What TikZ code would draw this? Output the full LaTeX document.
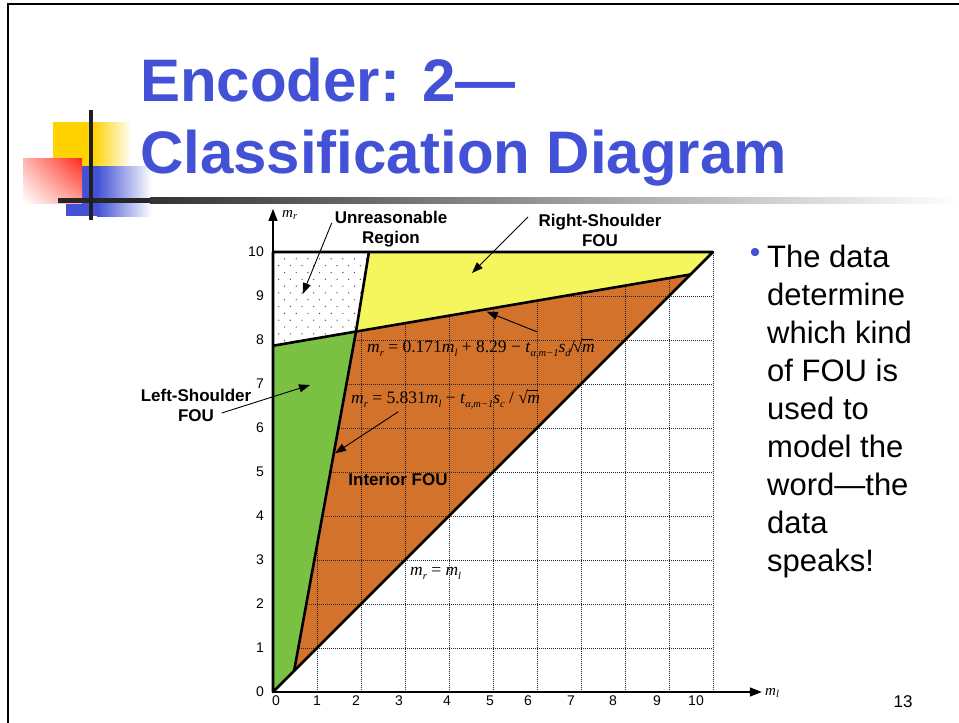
\documentclass[tikz,border=0pt]{standalone}
\usepackage{fontspec}
\setmainfont{Liberation Sans}
\newfontfamily\serifeq{Liberation Serif}
\usetikzlibrary{arrows.meta,shadings}

\definecolor{titleblue}{HTML}{4251D6}
\definecolor{fouyellow}{HTML}{F5F55E}
\definecolor{fouorange}{HTML}{D2722B}
\definecolor{fougreen}{HTML}{7AC143}
\definecolor{decoyellow}{HTML}{FFD200}
\definecolor{decored}{HTML}{FF2A1A}

% italic subscript and a radical with its bar
\newcommand\sub[1]{\raisebox{-0.27em}{\fontsize{10.5}{11}\selectfont\itshape #1}}
\newcommand\rtm{\mbox{√\kern-0.6pt\rlap{\rule[0.68em]{0.62em}{0.055em}}\textit{m}}}

\begin{document}
\begin{tikzpicture}[x=1pt,y=-1pt,
  lbl/.style={font=\fontsize{17}{20}\selectfont\bfseries, inner sep=0, align=center},
  ticklbl/.style={font=\fontsize{14}{16}\selectfont, inner sep=0},
  eqn/.style={font=\fontsize{17.5}{20}\selectfont\serifeq, inner sep=0, anchor=base west},
  pointer/.style={line width=0.9pt, -{Triangle[length=11pt,width=8pt]}},
  boundary/.style={line width=2.6pt, line join=round, line cap=round},
  axisline/.style={line width=1.3pt, -{Triangle[length=12pt,width=9pt]}},
  gridline/.style={dash pattern=on 1pt off 1pt, line width=0.9pt, black!85},
  titletext/.style={anchor=base west, inner sep=0, text=titleblue, font=\fontsize{60}{70}\selectfont\bfseries},
]
\useasboundingbox (0,0) rectangle (959,723);
\fill[white] (0,0) rectangle (959,723);

% slide frame
\draw[line width=1.6pt] (8,723) -- (8,4) -- (959,4);

% corner ornament
\fill[decoyellow] (53,122) rectangle (93,166);
\shade[left color=decoyellow, right color=white] (93,122) rectangle (132,166);
\fill[titleblue] (66,166) rectangle (97,216);
\shade[left color=titleblue, right color=white] (97,166) rectangle (152,216);
\shade[upper left=decored!35!white, upper right=decored, lower left=white, lower right=decored!45!white] (23,158) rectangle (82,203);
\fill[black!85] (58,197.5) rectangle (150,203);
\shade[left color=black!80, middle color=black!35, right color=white] (150,197.5) rectangle (959,203);
\fill[black!88] (89,110) rectangle (93,220);

% title
\node[titletext] (title1) at (140,101) {Encoder: 2—};
\node[titletext] (title2) at (140,173) {Classification Diagram};

% the classification plot, in data units
\begin{scope}[shift={(273,692)}, x=44pt, y=44pt]
  \coordinate (O) at (0,0);
  \coordinate (B) at (0.48,0.48);
  \coordinate (V) at (1.886,8.19);
  \coordinate (R) at (9.49,9.49);
  \coordinate (T) at (2.18,10);
  \coordinate (L) at (0,7.87);
  \coordinate (TL) at (0,10);
  \coordinate (TR) at (10,10);
  \coordinate (yend) at (0,10.98);
  \coordinate (xend) at (11.11,0);

  % interior FOU
  \fill[fouorange] (B) -- (V) -- (R) -- cycle;
  % grid
  \foreach \k in {1,...,10} \draw[gridline] (\k,0) -- (\k,10);
  \foreach \k in {1,...,9} \draw[gridline] (0,\k) -- (10,\k);
  % left-shoulder FOU
  \fill[fougreen] (O) -- (L) -- (V) -- (B) -- cycle;
  % right-shoulder FOU
  \fill[fouyellow] (V) -- (T) -- (TR) -- (R) -- cycle;
  % unreasonable region, dotted
  \fill[white] (L) -- (TL) -- (T) -- (V) -- cycle;
  \begin{scope}
    \clip (L) -- (TL) -- (T) -- (V) -- cycle;
    \foreach \i in {0,...,14}
      \foreach \j in {0,...,9}
        \fill[black!70] ({0.13+0.265*\j+0.1325*mod(\i,2)},{7.83+0.155*\i}) circle (0.7pt);
  \end{scope}

  % region boundaries
  \draw[boundary] (O) -- (TL) -- (TR) -- cycle;
  \draw[boundary] (L) -- (R);
  \draw[boundary] (B) -- (V) -- (T);

  % axes
  \draw[axisline] (TL) -- (yend);
  \draw[axisline] (O) -- (xend);
\end{scope}

% axis labels
\node[anchor=west, inner sep=0, font=\fontsize{15}{18}\selectfont\serifeq\itshape] (mr) at (282,215) {m\textsubscript{r}};
\node[anchor=west, inner sep=0, font=\fontsize{15}{18}\selectfont\serifeq\itshape] (ml) at (765,693) {m\textsubscript{l}};

% tick labels
\foreach \v/\px in {0/276,1/317,2/356,3/399,4/447,5/490,6/528,7/571,8/613,9/657,10/696}
  \node[ticklbl] (xt\v) at (\px,701) {\v};
\foreach \v in {0,...,10}
  \node[ticklbl, anchor=east] (yt\v) at (264,{692-44*\v}) {\v};

% region labels
\node[lbl] (unreas) at (391,229) {Unreasonable\\Region};
\node[lbl] (rshoulder) at (600,230) {Right-Shoulder\\FOU};
\node[lbl] (lshoulder) at (196,405) {Left-Shoulder\\FOU};
\node[lbl, anchor=base] (interior) at (398,485) {Interior FOU};

% boundary equations
\node[eqn] (eqA) at (367,352) {\textit{m}\sub{r} = 0.171\textit{m}\sub{l} + 8.29 − \textit{t}\sub{α,m−1}\textit{s}\sub{d}\kern-0.5pt/\kern-2pt\rtm};
\node[eqn] (eqB) at (351,403) {\textit{m}\sub{r} = 5.831\textit{m}\sub{l} − \textit{t}\sub{α,m−1}\textit{s}\sub{c} / \rtm};
\node[eqn] (eqC) at (410,575) {\textit{m}\sub{r} = \textit{m}\sub{l}};

% pointers
\coordinate (unreasTail) at (331.7,223);
\coordinate (unreasTip) at (302.7,294);
\coordinate (rsTail) at (528,217);
\coordinate (rsTip) at (472,273);
\coordinate (eqATail) at (536.7,331.7);
\coordinate (eqATip) at (486.7,311.7);
\coordinate (lsTail) at (221.7,413);
\coordinate (lsTip) at (310,385);
\coordinate (eqBTail) at (398.3,411.7);
\coordinate (eqBTip) at (335,453.3);
\draw[pointer] (unreasTail) -- (unreasTip);
\draw[pointer] (rsTail) -- (rsTip);
\draw[pointer] (eqATail) -- (eqATip);
\draw[pointer] (lsTail) -- (lsTip);
\draw[pointer] (eqBTail) -- (eqBTip);

% bullet text
\node[anchor=center, inner sep=0, text=titleblue, font=\fontsize{30}{30}\selectfont] (dot) at (755,255) {•};
\node[anchor=base west, inner sep=0, align=left, font=\fontsize{31}{38}\selectfont] (bullet) at (767,571)
  {The data\\determine\\which kind\\of FOU is\\used to\\model the\\word—the\\data\\speaks!};

% page number
\node[inner sep=0, font=\fontsize{17}{20}\selectfont] (pagenum) at (903,702) {13};
\end{tikzpicture}
\end{document}
